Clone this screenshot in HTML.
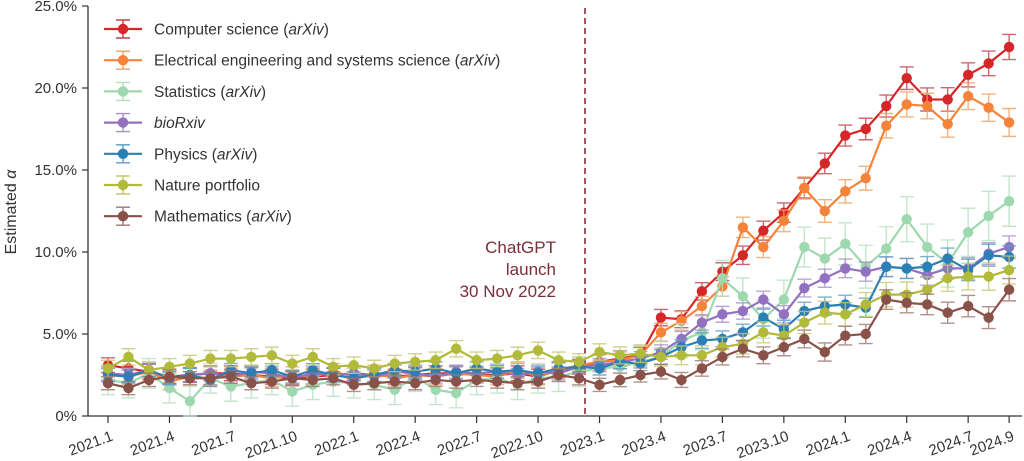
<!DOCTYPE html>
<html><head><meta charset="utf-8"><style>
html,body{margin:0;padding:0;background:#fff;}
svg{display:block;font-family:"Liberation Sans",sans-serif;}
</style></head><body>
<svg id="c" width="1024" height="461" viewBox="0 0 1024 461" xmlns="http://www.w3.org/2000/svg"></svg>
<script>
const S=document.getElementById('c');const NS='http://www.w3.org/2000/svg';
function el(t,a,txt){const e=document.createElementNS(NS,t);for(const k in a)e.setAttribute(k,a[k]);if(txt!==undefined)e.textContent=txt;S.appendChild(e);return e;}
const X=i=>108+i*20.48, Y=v=>416-v*16.4;
el('line',{x1:88,y1:6,x2:88,y2:416,stroke:'#333','stroke-width':1.3});
el('line',{x1:88,y1:416,x2:1022,y2:416,stroke:'#333','stroke-width':1.3});
[0,5,10,15,20,25].forEach(v=>{const y=Y(v);el('line',{x1:82,y1:y,x2:88,y2:y,stroke:'#333','stroke-width':1.2});
el('text',{x:77,y:y+5,'text-anchor':'end','font-size':15,fill:'#333'},v===0?'0%':v.toFixed(1)+'%');});
{const t=el('text',{x:0,y:0,transform:'translate(16,212) rotate(-90)','text-anchor':'middle','font-size':16,fill:'#333'},'Estimated ');
const a=document.createElementNS(NS,'tspan');a.setAttribute('font-style','italic');a.textContent='α';t.appendChild(a);}
const labs=['2021.1','2021.4','2021.7','2021.10','2022.1','2022.4','2022.7','2022.10','2023.1','2023.4','2023.7','2023.10','2024.1','2024.4','2024.7'];
function xl(x,l){el('line',{x1:x,y1:416,x2:x,y2:423,stroke:'#333','stroke-width':1.2});
el('text',{x:0,y:0,transform:`translate(${x+6},440) rotate(-20)`,'text-anchor':'end','font-size':15,fill:'#333'},l);}
labs.forEach((l,k)=>xl(X(k*3),l));xl(X(44),'2024.9');
el('line',{x1:585,y1:8,x2:585,y2:416,stroke:'#8b2a35','stroke-width':1.6,'stroke-dasharray':'6,4'});
[['ChatGPT',253],['launch',275],['30 Nov 2022',297]].forEach(([t,y])=>el('text',{x:556,y:y,'text-anchor':'end','font-size':17,fill:'#7a2e3a'},t));
const D=[
['#d62728','#c0404a',[3.1,2.9,2.7,2.4,2.5,2.6,2.6,2.5,2.4,2.3,2.4,2.5,2.6,2.5,2.4,2.5,2.6,2.6,2.5,2.5,2.6,2.4,2.8,3.0,3.3,3.5,3.7,6.0,5.9,7.6,8.8,9.8,11.3,12.4,13.9,15.4,17.1,17.5,18.9,20.6,19.3,19.3,20.8,21.5,22.5]],
['#f5833a','#f0a060',[2.6,2.4,2.7,2.1,2.4,2.3,2.4,2.5,2.3,2.5,2.4,2.7,2.4,2.6,2.3,2.5,2.4,2.6,2.5,2.4,2.8,2.4,2.8,3.1,3.3,3.4,3.7,5.1,5.8,6.7,7.9,11.5,10.3,11.9,13.9,12.5,13.7,14.5,17.7,19.0,18.9,17.8,19.5,18.8,17.9]],
['#9ed8ae','#b5e0c0',[2.2,2.0,2.6,1.7,0.9,2.3,1.8,2.0,2.2,1.5,1.9,2.1,2.0,1.9,1.6,2.4,1.6,1.4,2.2,2.3,1.9,2.3,2.4,2.7,2.9,3.0,3.3,3.6,4.6,5.1,8.4,7.3,5.9,7.1,10.3,9.6,10.5,9.1,10.2,12.0,10.3,9.3,11.2,12.2,13.1]],
['#9470c0','#a890c8',[2.6,2.5,2.8,2.3,2.5,2.6,2.4,2.7,2.6,2.3,2.6,2.5,2.6,2.4,2.7,2.6,2.4,2.7,2.6,2.7,2.5,2.7,2.6,3.0,3.1,3.3,3.5,3.9,4.7,5.7,6.2,6.4,7.1,6.2,7.8,8.4,9.0,8.8,9.1,9.0,8.6,9.0,9.0,9.9,10.3]],
['#2a7fb5','#5a9cc5',[2.5,2.4,2.8,2.3,2.5,2.2,2.8,2.6,2.8,2.4,2.8,2.5,2.3,2.5,2.8,2.7,2.9,2.6,2.9,2.7,2.8,2.6,2.9,3.0,2.9,3.3,3.2,3.6,4.2,4.6,4.7,5.1,6.0,5.3,6.4,6.7,6.8,6.6,9.1,9.0,9.1,9.6,8.9,9.8,9.7]],
['#b2ba3a','#c4c870',[2.9,3.6,2.8,3.0,3.2,3.5,3.5,3.6,3.7,3.2,3.6,3.0,3.1,2.9,3.2,3.3,3.4,4.1,3.4,3.5,3.7,4.0,3.4,3.3,3.9,3.7,3.8,3.6,3.7,3.7,4.2,4.4,5.1,4.9,5.7,6.3,6.2,6.8,7.4,7.4,7.7,8.4,8.5,8.5,8.9]],
['#8a5148','#a0766e',[2.0,1.7,2.2,2.4,2.3,2.3,2.4,2.0,2.1,2.3,2.2,2.3,1.9,2.0,2.1,2.0,2.2,2.1,2.2,2.1,2.0,2.1,2.5,2.3,1.9,2.2,2.5,2.7,2.2,2.9,3.6,4.1,3.7,4.2,4.7,3.9,4.9,5.0,7.1,6.9,6.8,6.3,6.7,6.0,7.7]]];
const errs=[0.45,0.5,0.6,0.4,0.4,0.5,0.4];
D.forEach(([c,ec,v],s)=>{
 v.forEach((d,i)=>{const e=errs[s]*(1+Math.max(0,i-24)*0.035)*(s==2?1.5:1);const x=X(i);
 el('path',{d:`M${x},${Y(d-e)}V${Y(d+e)}M${x-7},${Y(d-e)}h14M${x-7},${Y(d+e)}h14`,stroke:ec,'stroke-width':1.4,fill:'none',opacity:0.8});});
 el('polyline',{points:v.map((d,i)=>X(i)+','+Y(d)).join(' '),fill:'none',stroke:c,'stroke-width':2.2});
 v.forEach((d,i)=>el('circle',{cx:X(i),cy:Y(d),r:5.2,fill:c}));
});
const L=[['Computer science (',"arXiv",')'],[' Electrical engineering and systems science (','arXiv',')'],['Statistics (','arXiv',')'],['','bioRxiv',''],['Physics (','arXiv',')'],['Nature portfolio','',''],['Mathematics (','arXiv',')']];
L.forEach((l,k)=>{const y=29+k*31.2;const [c,ec]=D[k];
 el('path',{d:`M123,${y-9}V${y+9}M116,${y-9}h14M116,${y+9}h14`,stroke:ec,'stroke-width':1.4,fill:'none'});
 el('line',{x1:104,y1:y,x2:142,y2:y,stroke:c,'stroke-width':2.2});
 el('circle',{cx:123,cy:y,r:5.2,fill:c});
 const t=el('text',{x:154,y:y+5.5,'font-size':15.5,fill:'#333'});
 const a=document.createElementNS(NS,'tspan');a.textContent=l[0];t.appendChild(a);
 if(l[1]){const b=document.createElementNS(NS,'tspan');b.setAttribute('font-style','italic');b.textContent=l[1];t.appendChild(b);}
 if(l[2]){const d=document.createElementNS(NS,'tspan');d.textContent=l[2];t.appendChild(d);}
});
</script>
</body></html>
